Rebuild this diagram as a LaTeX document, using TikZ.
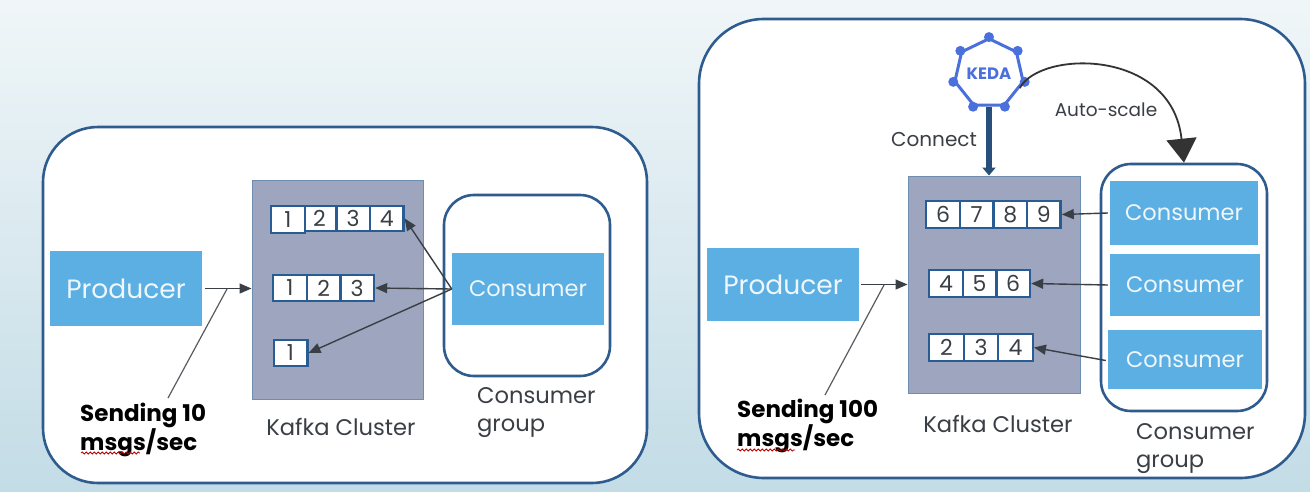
\documentclass[tikz,border=0pt]{standalone}
\usepackage{fontspec}
\setmainfont{Poppins}
\usetikzlibrary{arrows.meta,shapes.geometric,decorations.pathmorphing}
\definecolor{panelblue}{HTML}{2F5C8F}
\definecolor{boxblue}{HTML}{5BAFE2}
\definecolor{kafkagray}{HTML}{9EA6BF}
\definecolor{cellblue}{HTML}{2A5C94}
\definecolor{kedablue}{HTML}{4A70DC}
\definecolor{inkgray}{HTML}{3A3F45}
\definecolor{skytop}{HTML}{F0F6F8}
\definecolor{skybottom}{HTML}{C3DCE6}
\tikzset{
  panel/.style={draw=panelblue, line width=2.6pt, fill=white, rounded corners=#1},
  blockbox/.style={fill=boxblue, text=white!90!boxblue, font=\fontsize{22.5}{28}\selectfont, minimum height=#1, inner sep=0pt},
  prodbox/.style={blockbox=#1, font=\fontsize{26.5}{30}\selectfont},
  kafkabox/.style={fill=kafkagray, draw=panelblue!70, line width=1pt},
  cell/.style={draw=cellblue, line width=2.4pt, fill=white, text=inkgray, minimum width=33.6pt, minimum height=26.5pt, inner sep=0pt, font=\fontsize{22}{24}\selectfont},
  label/.style={text=inkgray, font=\fontsize{22.6}{28}\selectfont, align=left, inner sep=0pt},
  sendlabel/.style={text=black, font=\fontsize{23}{27.5}\selectfont\bfseries, align=left, inner sep=0pt},
  flow/.style={draw=inkgray, line width=1.4pt, -{Triangle[length=12pt,width=10pt]}},
  leader/.style={draw=inkgray!85, line width=1.2pt},
  squiggle/.style={draw=red!70!black, line width=0.8pt, decorate, decoration={snake, amplitude=1pt, segment length=4pt}}
}
\begin{document}
\begin{tikzpicture}[x=1pt,y=-1pt]
    \useasboundingbox (0,0) rectangle (1310,491);
    % Backdrop
    \shade[top color=skytop, bottom color=skybottom] (0,0) rectangle (1310,491);

    % Left panel
    \draw[panel=55pt] (43,127) rectangle (647,483);
    \node[prodbox=75pt, minimum width=152pt] (lprod) at (126,288.5) {Producer};
    \node[kafkabox, minimum width=171pt, minimum height=219pt] (lkafka) at (337.5,289.5) {};
    \node[panel=30pt, minimum width=166pt, minimum height=181pt] (lgroup) at (527,285.5) {};
    \node[blockbox=72pt, minimum width=152pt] (lcons) at (528,289) {Consumer};
    \foreach \v [count=\i] in {2,3,4} \node[cell, minimum height=25pt] (la\v) at ({319.5+(\i-1)*33.6},218.5) {\v};
    \node[cell] (la1) at (288,219.5) {1};
    \foreach \v [count=\i] in {1,2,3} \node[cell] (lb\v) at ({290+(\i-1)*33.6},288) {\v};
    \node[cell] (lc1) at (290.5,353) {1};
    \draw[flow] (lprod.east) ++(3,0) -- (lprod.east -| lkafka.west);
    \draw[flow] (lcons.west) -- (la4.east);
    \draw[flow] (lcons.west) -- (lb3.east);
    \draw[flow] (lcons.west) -- (lc1.east);
    \coordinate (ltap) at (227,289);
    \coordinate (lfoot) at (168,398);
    \draw[leader] (lfoot) -- (ltap);
    \node[sendlabel, anchor=north west] (lsend) at (80,403) {Sending 10\\msgs/sec};
    \draw[squiggle] (81,453) -- (140,453);
    \node[label] (lkafkatxt) at (341,427) {Kafka Cluster};
    \node[label, anchor=north west] (lgrouptxt) at (477,387) {Consumer\\group};

    % Right panel
    \draw[panel=65pt] (699,19) rectangle (1305,478);
    \node[prodbox=73pt, minimum width=152pt] (rprod) at (783,284.5) {Producer};
    \node[kafkabox, minimum width=172pt, minimum height=217pt] (rkafka) at (994,284.5) {};
    \node[panel=30pt, minimum width=166pt, minimum height=247pt] (rgroup) at (1184,287.5) {};
    \node[blockbox=64pt, minimum width=148pt] (rconsa) at (1184,213) {Consumer};
    \node[blockbox=62pt, minimum width=150pt] (rconsb) at (1185,285) {Consumer};
    \node[blockbox=59pt, minimum width=154pt] (rconsc) at (1185,359.5) {Consumer};
    \foreach \v [count=\i] in {6,7,8,9} \node[cell] (ra\v) at ({943+(\i-1)*33.6},214.5) {\v};
    \foreach \v [count=\i] in {4,5,6} \node[cell] (rb\v) at ({946+(\i-1)*33.6},283.5) {\v};
    \foreach \v [count=\i] in {2,3,4} \node[cell, minimum width=34.5pt] (rc\v) at ({946.5+(\i-1)*34.5},347.5) {\v};
    \draw[flow] (rprod.east) ++(2,0) -- (rprod.east -| rkafka.west);
    \draw[flow] (rconsa.west) ++(-2,0) -- (ra9.east);
    \draw[flow] (rconsb.west) ++(-2,0) -- (rb6.east);
    \draw[flow] (rconsc.west) ++(-2,1) -- (rc4.east);
    \coordinate (rtap) at (884,285);
    \coordinate (rfoot) at (825,395);
    \draw[leader] (rfoot) -- (rtap);
    \node[sendlabel, anchor=north west] (rsend) at (737,399) {Sending 100\\msgs/sec};
    \draw[squiggle] (737,450) -- (795,450);
    \node[label] (rkafkatxt) at (998,424) {Kafka Cluster};
    \node[label, anchor=north west] (rgrouptxt) at (1136,423) {Consumer\\group};

    % KEDA and its two links
    \node[regular polygon, regular polygon sides=7, draw=kedablue, line width=3pt, fill=white, minimum size=69.5pt, inner sep=0pt, text=kedablue, font=\fontsize{16.5}{18}\selectfont\bfseries] (keda) at (989,73.7) {KEDA};
    \foreach \i in {1,...,7} \fill[kedablue] (keda.corner \i) circle (5pt);
    \draw[draw=panelblue!85!black, line width=6pt, -{Triangle[length=8pt,width=13pt]}] (keda.south) -- (keda.south |- rkafka.north);
    \node[label, font=\fontsize{20}{24}\selectfont] (connecttxt) at (934,140) {Connect};
    \draw[draw=black!80, line width=1.8pt, -{Triangle[length=24pt,width=30pt]}] (keda.-25) .. controls (1040,50) and (1172,48) .. (rgroup.north);
    \node[label, font=\fontsize{18.5}{24}\selectfont] (scaletxt) at (1106,110) {Auto-scale};
\end{tikzpicture}
\end{document}
